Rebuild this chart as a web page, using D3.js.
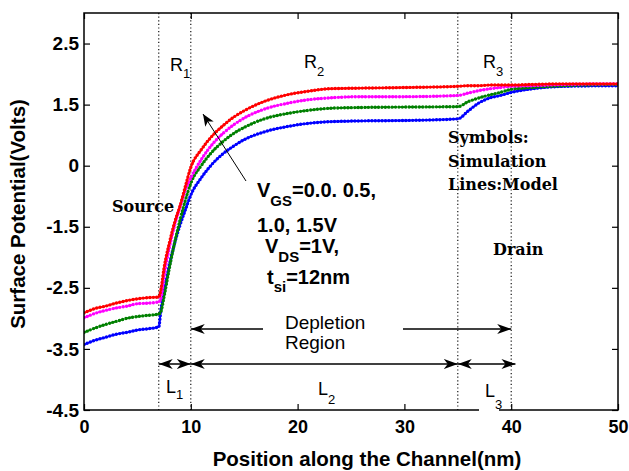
<!DOCTYPE html>
<html><head><meta charset="utf-8">
<script src="https://cdn.jsdelivr.net/npm/d3@7"></script>
<style>body{margin:0;background:#fff}svg{display:block}</style>
</head><body><svg id="c" width="629" height="471"></svg>
<script>
// ---------- data ----------
const xTicks = [0, 10, 20, 30, 40, 50];
const yTicks = [-4.5, -3.5, -2.5, -1.5, 0, 1.5, 2.5];
const yTickLabels = ["-4.5", "-3.5", "-2.5", "-1.5", "0", "1.5", "2.5"];
const yTop = 3.0;
const positions = [0,1,2,3,4,5,6,7,7.2,7.5,8,8.5,9,9.5,10,11,12,13,14,15,17,19,21,23,26,30,35,36,37,38,39,40,42,45,50];
const vgs15 = [-2.91,-2.84,-2.80,-2.75,-2.71,-2.68,-2.66,-2.65,-2.53,-2.17,-1.76,-1.38,-0.98,-0.50,-0.04,0.40,0.73,0.98,1.19,1.35,1.56,1.66,1.72,1.76,1.77,1.78,1.80,1.81,1.81,1.82,1.82,1.82,1.83,1.84,1.84];
const vgs10 = [-2.99,-2.92,-2.87,-2.83,-2.80,-2.76,-2.75,-2.73,-2.67,-2.30,-1.83,-1.45,-1.01,-0.59,-0.30,0.16,0.52,0.79,1.00,1.17,1.40,1.52,1.58,1.61,1.63,1.63,1.65,1.69,1.73,1.76,1.78,1.80,1.81,1.83,1.84];
const vgs05 = [-3.23,-3.16,-3.10,-3.05,-3.00,-2.97,-2.95,-2.93,-2.89,-2.64,-2.17,-1.75,-1.33,-0.84,-0.43,0.01,0.34,0.59,0.79,0.94,1.16,1.28,1.36,1.41,1.43,1.44,1.45,1.55,1.61,1.66,1.70,1.75,1.78,1.81,1.83];
const vgs00 = [-3.43,-3.36,-3.31,-3.26,-3.23,-3.19,-3.17,-3.14,-2.86,-2.57,-2.12,-1.76,-1.45,-1.08,-0.72,-0.29,0.04,0.29,0.48,0.64,0.84,0.96,1.04,1.08,1.10,1.11,1.15,1.35,1.53,1.61,1.65,1.70,1.76,1.80,1.81];
const regionBounds = [7, 10, 35, 40];

// ---------- layout ----------
const W = 629, H = 471;
const m = {l: 84, t: 13, r: 11, b: 61};
const plotB = H - m.b, plotR = W - m.r;
const svg = d3.select("#c");
const SANS = "'Liberation Sans', Arial, sans-serif";
const SERIF = "'DejaVu Serif', serif";

const x = d3.scaleLinear().domain([0, 50]).range([m.l, plotR]);
const step = (plotB - m.t) / (yTicks.length - 0.5);
const y = d3.scaleLinear()
  .domain([...yTicks, yTop])
  .range([...yTicks.map((d, i) => plotB - i * step), m.t]);

// defs
const defs = svg.append("defs");
defs.append("clipPath").attr("id", "clip").append("rect")
  .attr("x", m.l).attr("y", m.t).attr("width", plotR - m.l).attr("height", plotB - m.t);
defs.append("marker").attr("id", "chev").attr("viewBox", "0 0 14 10")
  .attr("refX", 14).attr("refY", 5).attr("markerWidth", 14).attr("markerHeight", 10)
  .attr("markerUnits", "userSpaceOnUse").attr("orient", "auto-start-reverse")
  .append("path").attr("d", "M0,0 L14,5 L0,10 L4,5 Z").attr("fill", "#000");
defs.append("marker").attr("id", "tri").attr("viewBox", "0 0 12 10")
  .attr("refX", 12).attr("refY", 5).attr("markerWidth", 12).attr("markerHeight", 10)
  .attr("markerUnits", "userSpaceOnUse").attr("orient", "auto")
  .append("path").attr("d", "M0,0 L12,5 L0,10 L3,5 Z").attr("fill", "#000");

// region dotted lines
svg.append("g").selectAll("line").data(regionBounds).join("line")
  .attr("x1", d => x(d)).attr("x2", d => x(d)).attr("y1", m.t).attr("y2", plotB)
  .attr("stroke", "#000").attr("stroke-width", 1.1).attr("stroke-dasharray", "1.2,2.4");

// series
const series = [
  {vals: vgs00, color: "#0000ff", dash: null},
  {vals: vgs05, color: "#008000", dash: "6,3"},
  {vals: vgs10, color: "#ff00ff", dash: "7,3,2,3"},
  {vals: vgs15, color: "#ff0000", dash: null}
];
const line = d3.line().x((d, i) => x(positions[i])).y(d => y(d)).curve(d3.curveMonotoneX);
const sg = svg.append("g").attr("clip-path", "url(#clip)");
series.forEach(s => {
  sg.append("path").attr("d", line(s.vals)).attr("fill", "none")
    .attr("stroke", s.color).attr("stroke-width", 1.8)
    .attr("stroke-dasharray", s.dash);
  sg.append("path").attr("d", line(s.vals)).attr("fill", "none")
    .attr("stroke", s.color).attr("stroke-width", 3.4)
    .attr("stroke-linecap", "round").attr("stroke-dasharray", "0,3.4");
});

// axes
function styleAxis(g) {
  g.select(".domain").remove();
  g.selectAll(".tick line").attr("stroke", "#000").attr("stroke-width", 1.2);
  g.selectAll("text").attr("font-family", SANS).attr("font-weight", "bold")
    .attr("font-size", 18).attr("fill", "#000");
}
svg.append("g").attr("transform", `translate(0,${plotB})`)
  .call(d3.axisBottom(x).tickValues(xTicks).tickSize(-6).tickPadding(10).tickFormat(d3.format("d")))
  .call(styleAxis);
svg.append("g").attr("transform", `translate(0,${m.t})`)
  .call(d3.axisTop(x).tickValues(xTicks).tickSize(-6).tickFormat(""))
  .call(styleAxis);
svg.append("g").attr("transform", `translate(${m.l},0)`)
  .call(d3.axisLeft(y).tickValues(yTicks).tickSize(-6).tickPadding(5).tickFormat((d, i) => yTickLabels[i]))
  .call(styleAxis)
  .call(g => g.selectAll("text").attr("font-size", 19));
svg.append("g").attr("transform", `translate(${plotR},0)`)
  .call(d3.axisRight(y).tickValues(yTicks).tickSize(-6).tickFormat(""))
  .call(styleAxis);
svg.append("rect").attr("x", m.l).attr("y", m.t).attr("width", plotR - m.l).attr("height", plotB - m.t)
  .attr("fill", "none").attr("stroke", "#000").attr("stroke-width", 1.5);

// axis titles
svg.append("text").attr("x", (m.l + plotR) / 2 + 16).attr("y", 466).attr("text-anchor", "middle")
  .attr("font-family", SANS).attr("font-weight", "bold").attr("font-size", 20.5)
  .text("Position along the Channel(nm)");
svg.append("text").attr("transform", "translate(25,214) rotate(-90)").attr("text-anchor", "middle")
  .attr("font-family", SANS).attr("font-weight", "bold").attr("font-size", 20.5)
  .text("Surface Potential(Volts)");

// helper: main text + subscript (+ rest)
function subText(px, py, main, sub, rest, size, subSize, bold, dyS) {
  const t = svg.append("text").attr("x", px).attr("y", py)
    .attr("font-family", SANS).attr("font-size", size)
    .attr("font-weight", bold ? "bold" : "normal").attr("fill", "#000");
  t.append("tspan").text(main);
  t.append("tspan").attr("font-size", subSize).attr("dy", dyS).text(sub);
  if (rest) t.append("tspan").attr("dy", -dyS).text(rest);
  return t;
}
// region labels
subText(170, 71, "R", "1", null, 18, 13, false, 7);
subText(304, 68, "R", "2", null, 18, 13, false, 8);
subText(483, 68, "R", "3", null, 18, 13, false, 8);

// L labels (white box for L3 over the axis)
svg.append("rect").attr("x", 479).attr("y", 380).attr("width", 20).attr("height", 33).attr("fill", "#fff");
subText(166, 393, "L", "1", null, 18, 13, false, 6);
subText(318, 395, "L", "2", null, 18, 13, false, 9);
subText(485, 397, "L", "3", null, 18, 13, false, 12);

// serif notes
function serif(px, py, s) {
  svg.append("text").attr("x", px).attr("y", py).attr("font-family", SERIF)
    .attr("font-weight", "bold").attr("font-size", 16).attr("fill", "#000").text(s);
}
serif(112, 212, "Source");
serif(493, 255, "Drain");
serif(448, 143, "Symbols:");
serif(448, 167, "Simulation");
serif(448, 190, "Lines:Model");

// bias annotation
subText(257, 197, "V", "GS", "=0.0. 0.5,", 20, 15, true, 9);
svg.append("text").attr("x", 257).attr("y", 232).attr("font-family", SANS).attr("font-weight", "bold")
  .attr("font-size", 20).text("1.0, 1.5V");
subText(265, 253, "V", "DS", "=1V,", 20, 15, true, 9);
subText(267, 284, "t", "si", "=12nm", 20, 15, true, 8);

// VGS arrow
svg.append("line").attr("x1", 246).attr("y1", 181).attr("x2", 203).attr("y2", 114)
  .attr("stroke", "#000").attr("stroke-width", 1).attr("marker-end", "url(#tri)");

// depletion region
svg.append("text").attr("x", 285).attr("y", 329).attr("font-family", SANS).attr("font-size", 19).text("Depletion");
svg.append("text").attr("x", 285).attr("y", 349).attr("font-family", SANS).attr("font-size", 19).text("Region");
svg.append("line").attr("x1", 263).attr("y1", 329).attr("x2", x(10)).attr("y2", 329)
  .attr("stroke", "#000").attr("stroke-width", 1.5).attr("marker-end", "url(#chev)");
svg.append("line").attr("x1", 403).attr("y1", 329).attr("x2", x(40)).attr("y2", 329)
  .attr("stroke", "#000").attr("stroke-width", 1.5).attr("marker-end", "url(#chev)");

// length arrows
const spans = [[7, 10], [10, 35], [35, 40.4]];
svg.append("g").selectAll("line").data(spans).join("line")
  .attr("x1", d => x(d[0])).attr("x2", d => x(d[1])).attr("y1", 364).attr("y2", 364)
  .attr("stroke", "#000").attr("stroke-width", 1.5)
  .attr("marker-start", "url(#chev)").attr("marker-end", "url(#chev)");
</script></body></html>
